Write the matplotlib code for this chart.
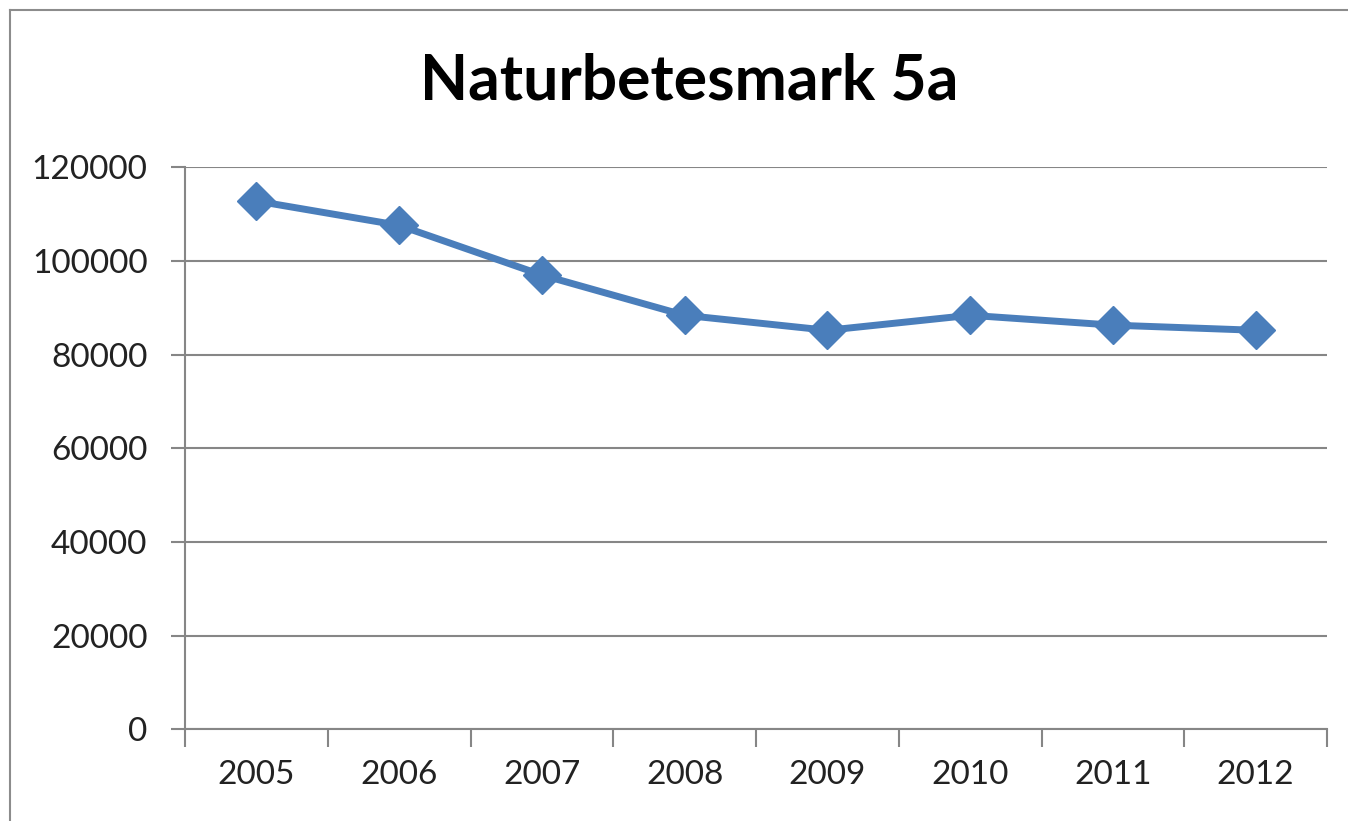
import matplotlib
matplotlib.use("Agg")
import matplotlib.pyplot as plt
from matplotlib.lines import Line2D

years = ["2005", "2006", "2007", "2008", "2009", "2010", "2011", "2012"]
values = [112800, 107600, 97000, 88400, 85200, 88400, 86300, 85200]
yticks = [0, 20000, 40000, 60000, 80000, 100000, 120000]

plt.rcParams['font.family'] = ['Lato', 'DejaVu Sans']

W, H = 1348, 821
fig = plt.figure(figsize=(W / 100, H / 100), dpi=100)
fig.patch.set_facecolor("white")
# outer chart frame (top and left edges visible in the crop)
fig.lines.append(Line2D([10 / W, 10 / W], [-0.01, 1 - 10 / H], transform=fig.transFigure,
                        color="#8c8c8c", linewidth=1.5))
fig.lines.append(Line2D([10 / W, 1.01], [1 - 10 / H, 1 - 10 / H], transform=fig.transFigure,
                        color="#8c8c8c", linewidth=1.5))

ax = fig.add_axes([185 / W, 1 - 729.3 / H, (1327 - 185) / W, (729.3 - 167.3) / H])
x = list(range(len(years)))
ax.plot(x, values, color="#4A7EBB", linewidth=5, marker="D", markersize=19,
        markeredgecolor="#4A7EBB", markerfacecolor="#4A7EBB", zorder=3)

ax.set_xlim(-0.5, len(years) - 0.5)
ax.set_ylim(0, 120000)
ax.set_yticks(yticks)
ax.set_yticklabels([str(v) for v in yticks], fontsize=24, color="#222222")
ax.set_xticks(x)
ax.set_xticklabels(years, fontsize=24, color="#222222")
ax.set_xticks([i - 0.5 for i in range(len(years) + 1)], minor=True)
ax.tick_params(axis="x", which="major", length=0, pad=22)
ax.tick_params(axis="x", which="minor", length=13, width=1.5, color="#868686")
ax.tick_params(axis="y", length=10, width=1.5, color="#868686", pad=17)

ax.grid(axis="y", color="#868686", linewidth=1.5)
ax.set_axisbelow(True)
for s in ["top", "right"]:
    ax.spines[s].set_visible(False)
for s in ["left", "bottom"]:
    ax.spines[s].set_color("#868686")
    ax.spines[s].set_linewidth(1.5)

fig.text(689 / W, 1 - 82 / H, "Naturbetesmark 5a", fontsize=45, fontweight="bold",
         ha="center", va="center", color="#000000")

fig.savefig("out.png", dpi=100, facecolor="white")
